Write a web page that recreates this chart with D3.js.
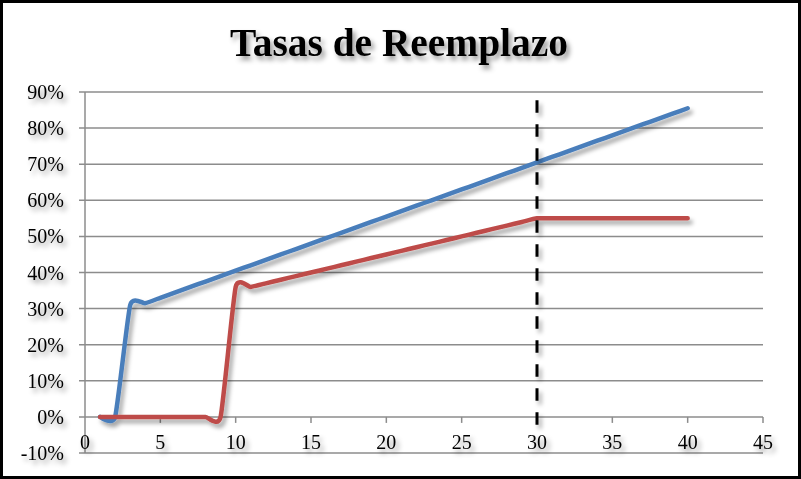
<!DOCTYPE html>
<html><head><meta charset="utf-8">
<script src="https://cdn.jsdelivr.net/npm/d3@7"></script>
<style>html,body{margin:0;padding:0;background:#fff;}svg{display:block;}</style>
</head><body>
<script>
const title = "Tasas de Reemplazo";
const years = [1,2,3,4,5,6,7,8,9,10,11,12,13,14,15,16,17,18,19,20,21,22,23,24,25,26,27,28,29,30,31,32,33,34,35,36,37,38,39,40];
const blue = [0,0,31,31.5,33,34.5,36,37.5,39,40.5,42,43.5,45,46.5,48,49.5,51,52.5,54,55.5,57,58.5,60,61.5,63,64.5,66,67.5,69,70.5,72,73.5,75,76.5,78,79.5,81,82.5,84,85.5];
const red = [0,0,0,0,0,0,0,0,0,36,36,37,38,39,40,41,42,43,44,45,46,47,48,49,50,51,52,53,54,55,55,55,55,55,55,55,55,55,55,55];
const refX = 30;
const refY = [-2.2, 90.7];
const xTicks = [0,5,10,15,20,25,30,35,40,45];
const yTicks = [-10,0,10,20,30,40,50,60,70,80,90];

const W = 801, H = 479;
const svg = d3.select("body").append("svg").attr("width", W).attr("height", H);
const defs = svg.append("defs");
const f = defs.append("filter").attr("id","sh").attr("filterUnits","userSpaceOnUse").attr("x",0).attr("y",0).attr("width",W).attr("height",H);
f.append("feDropShadow").attr("dx",3).attr("dy",4).attr("stdDeviation",2.2).attr("flood-color","#000").attr("flood-opacity",0.35);
const ft = defs.append("filter").attr("id","sht").attr("filterUnits","userSpaceOnUse").attr("x",0).attr("y",0).attr("width",W).attr("height",H);
ft.append("feDropShadow").attr("dx",3).attr("dy",4).attr("stdDeviation",2.5).attr("flood-color","#000").attr("flood-opacity",0.4);

svg.append("rect").attr("x",1.5).attr("y",1.5).attr("width",W-3).attr("height",H-3).attr("fill","#fff").attr("stroke","#000").attr("stroke-width",3);

const x = d3.scaleLinear().domain([0,45]).range([85,763]);
const y = d3.scaleLinear().domain([-10,90]).range([453,92]);

const g = svg.append("g");
g.selectAll("line.grid").data(yTicks).join("line").attr("class","grid")
  .attr("x1",79).attr("x2",763).attr("y1",d=>y(d)).attr("y2",d=>y(d))
  .attr("stroke","#8c8c8c").attr("stroke-width",1.5);
g.append("line").attr("x1",x(0)).attr("x2",x(0)).attr("y1",y(90)).attr("y2",y(-10)).attr("stroke","#8c8c8c").attr("stroke-width",1.5);
g.selectAll("line.xt").data(xTicks.slice(1)).join("line").attr("class","xt")
  .attr("x1",d=>x(d)).attr("x2",d=>x(d)).attr("y1",y(0)).attr("y2",y(0)+6)
  .attr("stroke","#8c8c8c").attr("stroke-width",1.5);

const fontFam = "'Liberation Serif','Times New Roman',serif";
svg.append("g").attr("filter","url(#sht)").selectAll("text").data(yTicks).join("text")
  .attr("x",64).attr("y",d=>y(d)).attr("dy","0.35em").attr("text-anchor","end")
  .attr("font-family",fontFam).attr("font-size",20).text(d=>d+"%");
svg.append("g").attr("filter","url(#sht)").selectAll("text").data(xTicks).join("text")
  .attr("x",d=>x(d)).attr("y",449).attr("text-anchor","middle")
  .attr("font-family",fontFam).attr("font-size",20).text(d=>d);

svg.append("text").attr("x",399).attr("y",56).attr("text-anchor","middle")
  .attr("font-family",fontFam).attr("font-weight","bold").attr("font-size",39)
  .attr("textLength",338).attr("lengthAdjust","spacingAndGlyphs")
  .attr("filter","url(#sht)").text(title);

const line = d3.line().x(d=>x(d[0])).y(d=>y(d[1])).curve(d3.curveCardinal.tension(0.5));
const lines = svg.append("g").attr("filter","url(#sh)");
lines.append("path").attr("d",line(years.map((t,i)=>[t,blue[i]]))).attr("fill","none")
  .attr("stroke","#4a7ebb").attr("stroke-width",4.5).attr("stroke-linecap","round").attr("stroke-linejoin","round");
lines.append("path").attr("d",line(years.map((t,i)=>[t,red[i]]))).attr("fill","none")
  .attr("stroke","#be4b48").attr("stroke-width",4.5).attr("stroke-linecap","round").attr("stroke-linejoin","round");

svg.append("line").attr("x1",x(refX)).attr("x2",x(refX)).attr("y1",y(refY[0])).attr("y2",y(refY[1]))
  .attr("stroke","#000").attr("stroke-width",3).attr("stroke-dasharray","12.5,11.5").attr("filter","url(#sh)");
</script>
</body></html>
